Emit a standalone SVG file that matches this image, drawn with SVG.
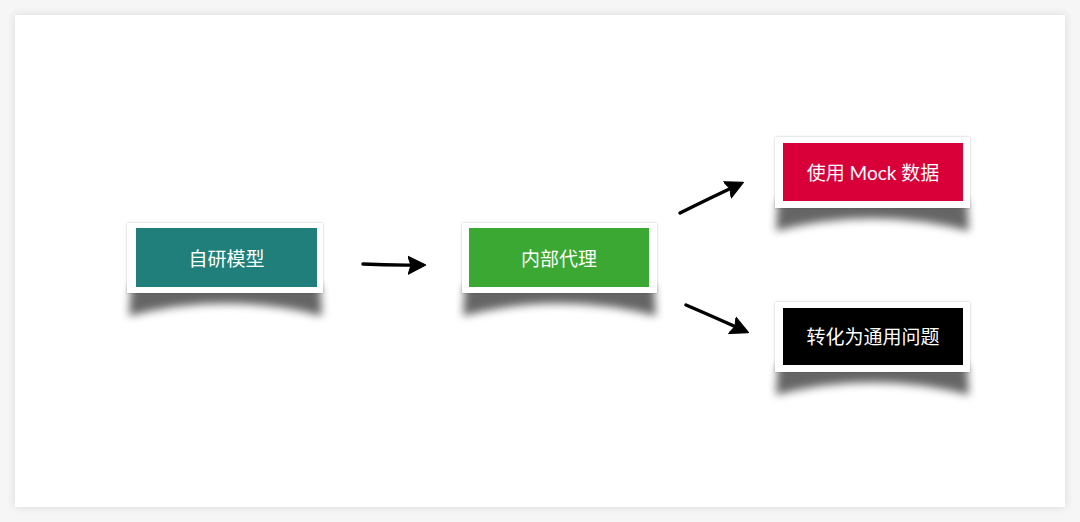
<svg xmlns="http://www.w3.org/2000/svg" width="1080" height="522" viewBox="0 0 1080 522">
<defs>
<filter id="panelShadow" x="-5%" y="-5%" width="110%" height="110%"><feGaussianBlur stdDeviation="5"/></filter>
<filter id="curl" x="-10%" y="-60%" width="120%" height="220%"><feGaussianBlur stdDeviation="4"/></filter>
<filter id="frameShadow" x="-10%" y="-30%" width="120%" height="160%"><feGaussianBlur stdDeviation="1"/></filter>
<marker id="head" viewBox="0 0 18 20" refX="14" refY="10" markerWidth="18" markerHeight="20" orient="auto" markerUnits="userSpaceOnUse">
<path d="M0,1 L18,10 L0,19 L3,10 Z" fill="#000" stroke="#000" stroke-width="1" stroke-linejoin="round"/>
</marker>
<style>
.frame{fill:#fff;}
.label{font-family:"Lato","Noto Sans CJK SC",sans-serif;font-size:19px;fill:#fff;text-anchor:middle;dominant-baseline:central;}
.curl{fill:#000;opacity:0.6;filter:url(#curl);}
.edge{stroke:#000;stroke-width:3.5;fill:none;stroke-linecap:round;marker-end:url(#head);}
</style>
</defs>
<rect width="1080" height="522" fill="#f6f6f6"/>
<rect x="15" y="15" width="1050" height="492" fill="#000" opacity="0.12" filter="url(#panelShadow)"/>
<rect x="15" y="15" width="1050" height="492" fill="#fff"/>

<g id="node-zyxmx">
<path class="curl" d="M131,285 L320,285 L322,316 Q226,291 129,316 Z"/>
<rect x="127" y="223" width="196" height="70" fill="#000" opacity="0.25" filter="url(#frameShadow)"/>
<rect class="frame" x="127" y="223" width="196" height="70"/>
<rect x="136" y="228" width="181" height="59" fill="#207f7a"/>
<text class="label" x="226.5" y="258">自研模型</text>
</g>

<g id="node-nbdl">
<path class="curl" d="M465,285 L654,285 L656,316 Q560,291 463,316 Z"/>
<rect x="462" y="223" width="195" height="70" fill="#000" opacity="0.25" filter="url(#frameShadow)"/>
<rect class="frame" x="462" y="223" width="195" height="70"/>
<rect x="469" y="228" width="180" height="59" fill="#3aa832"/>
<text class="label" x="559" y="258">内部代理</text>
</g>

<g id="node-mock">
<path class="curl" d="M778,200 L967,200 L969,231 Q872,206 776,231 Z"/>
<rect x="775" y="137" width="195" height="71" fill="#000" opacity="0.25" filter="url(#frameShadow)"/>
<rect class="frame" x="775" y="137" width="195" height="71"/>
<rect x="783" y="143" width="180" height="58" fill="#d9003a"/>
<text class="label" x="873" y="172">使用 Mock 数据</text>
</g>

<g id="node-general">
<path class="curl" d="M778,364 L967,364 L969,395 Q872,370 776,395 Z"/>
<rect x="775" y="302" width="195" height="70" fill="#000" opacity="0.25" filter="url(#frameShadow)"/>
<rect class="frame" x="775" y="302" width="195" height="70"/>
<rect x="783" y="308" width="180" height="57" fill="#000"/>
<text class="label" x="873" y="336">转化为通用问题</text>
</g>

<g id="connectors">
<path class="edge" d="M363,264 Q390,265.5 422,265"/>
<path class="edge" d="M680,213 Q708,199 740,184"/>
<path class="edge" d="M686,305 Q714,317 745,331"/>
</g>
</svg>
